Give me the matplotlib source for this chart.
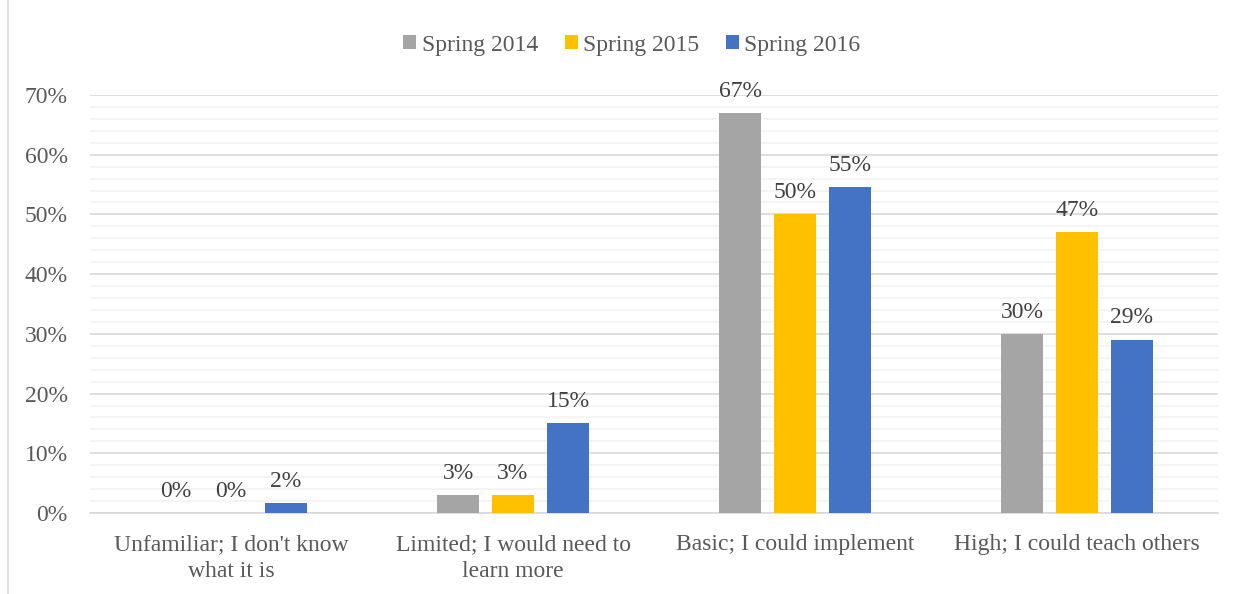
import matplotlib.pyplot as plt
from matplotlib.patches import Rectangle
from matplotlib.ticker import MultipleLocator, FuncFormatter

categories = ["Unfamiliar; I don't know\nwhat it is", "Limited; I would need to\nlearn more",
              "Basic; I could implement", "High; I could teach others"]
series = ["Spring 2014", "Spring 2015", "Spring 2016"]
spring_2014 = [0, 3, 67, 30]
spring_2015 = [0, 3, 50, 47]
spring_2016 = [1.6, 15, 54.6, 29]
labels_2014 = ["0%", "3%", "67%", "30%"]
labels_2015 = ["0%", "3%", "50%", "47%"]
labels_2016 = ["2%", "15%", "55%", "29%"]
colors = ["#a5a5a5", "#ffc000", "#4472c4"]

plt.rcParams['font.family'] = ['Liberation Serif', 'DejaVu Serif']

fig = plt.figure(figsize=(12.46, 5.94), dpi=100)
ax = fig.add_axes([90 / 1246, 1 - 513 / 594, 1128 / 1246, 418 / 594])

# outer chart border
fig.patches.append(Rectangle((8 / 1246, -0.01), 1.2, 1.2, transform=fig.transFigure,
                             fill=False, edgecolor="#d9d9d9", linewidth=1.2))

width = 0.152
offset = 0.195
values = [spring_2014, spring_2015, spring_2016]
texts = [labels_2014, labels_2015, labels_2016]
for i, (vals, lab) in enumerate(zip(values, texts)):
    xs = [c + (i - 1) * offset for c in range(len(categories))]
    ax.bar(xs, vals, width, color=colors[i], label=series[i], zorder=3)
    for x, v, t in zip(xs, vals, lab):
        ax.text(x, v + 1.9, t, ha="center", va="bottom", fontsize=17, color="#404040")

ax.set_xlim(-0.5, 3.5)
ax.set_ylim(0, 70)
ax.yaxis.set_major_locator(MultipleLocator(10))
ax.yaxis.set_minor_locator(MultipleLocator(2))
ax.yaxis.set_major_formatter(FuncFormatter(lambda v, p: f"{v:.0f}%"))
ax.grid(axis="y", which="major", color="#d9d9d9", linewidth=1.2, zorder=0)
ax.grid(axis="y", which="minor", color="#f2f2f2", linewidth=1.2, zorder=0)
ax.set_xticks(range(len(categories)))
ax.set_xticklabels(categories, fontsize=17, color="#595959", linespacing=1.4)
ax.tick_params(axis="y", labelsize=17, labelcolor="#595959", length=0, pad=16, which="both")
ax.tick_params(axis="x", length=0, pad=15)
for s in ["top", "right", "left"]:
    ax.spines[s].set_visible(False)
ax.spines["bottom"].set_color("#d9d9d9")
ax.spines["bottom"].set_linewidth(1.2)

leg = fig.legend(loc="center", bbox_to_anchor=(632 / 1246, 1 - 45 / 594), ncol=3, frameon=False,
                 fontsize=17, handlelength=0.55, handleheight=0.55, handletextpad=0.25,
                 columnspacing=1.1)
for t in leg.get_texts():
    t.set_color("#595959")

fig.savefig("out.png", dpi=100)
